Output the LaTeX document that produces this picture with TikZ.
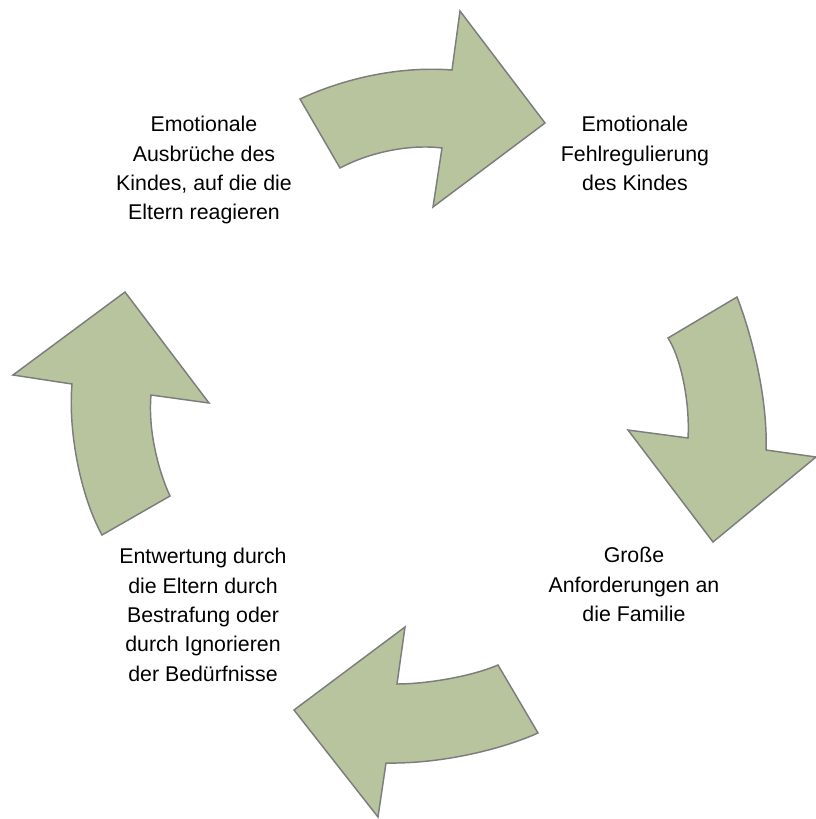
\documentclass[tikz,border=0pt]{standalone}
\usepackage{fontspec}
\setmainfont{Liberation Sans}
\definecolor{arrowfill}{RGB}{183,196,158}
\definecolor{arrowline}{RGB}{125,125,125}
\begin{document}
\begin{tikzpicture}[x=0.75pt,y=-0.75pt,
  cyclearrow/.style={fill=arrowfill,draw=arrowline,line width=1.1pt,line join=miter},
  label/.style={align=center,anchor=north,inner sep=0pt,font=\fontsize{16pt}{22pt}\selectfont}]
\useasboundingbox (0,0) rectangle (816,819);
% top arrow (pointing right)
\draw[cyclearrow] (300,99) .. controls (345,78) and (400,66) .. (452,70)
  -- (460,11) -- (545,123) -- (433,207) -- (442,148)
  .. controls (410,144) and (370,152) .. (340,168) -- cycle;
% right arrow (pointing down)
\draw[cyclearrow] (737,297) .. controls (752,335) and (768,400) .. (766,450)
  -- (816,457) -- (713,542) -- (628,430) -- (688,438)
  .. controls (690,405) and (682,360) .. (668,338) -- cycle;
% bottom arrow (pointing left)
\draw[cyclearrow] (538,733) .. controls (500,750) and (440,764) .. (386,763)
  -- (378,817) -- (294,710) -- (405,627) -- (397,684)
  .. controls (425,684) and (470,677) .. (498,665) -- cycle;
% left arrow (pointing up)
\draw[cyclearrow] (102,535) .. controls (80,495) and (68,430) .. (72,384)
  -- (13,375) -- (125,292) -- (209,403) -- (151,395)
  .. controls (148,430) and (158,470) .. (170,496) -- cycle;
% texts
\node[label] (t1) at (204,116) {Emotionale\\Ausbrüche des\\Kindes, auf die die\\Eltern reagieren};
\node[label] (t2) at (635,116) {Emotionale\\Fehlregulierung\\des Kindes};
\node[label] (t3) at (634,547) {Große\\Anforderungen an\\die Familie};
\node[label] (t4) at (203,548) {Entwertung durch\\die Eltern durch\\Bestrafung oder\\durch Ignorieren\\der Bedürfnisse};
\end{tikzpicture}
\end{document}
